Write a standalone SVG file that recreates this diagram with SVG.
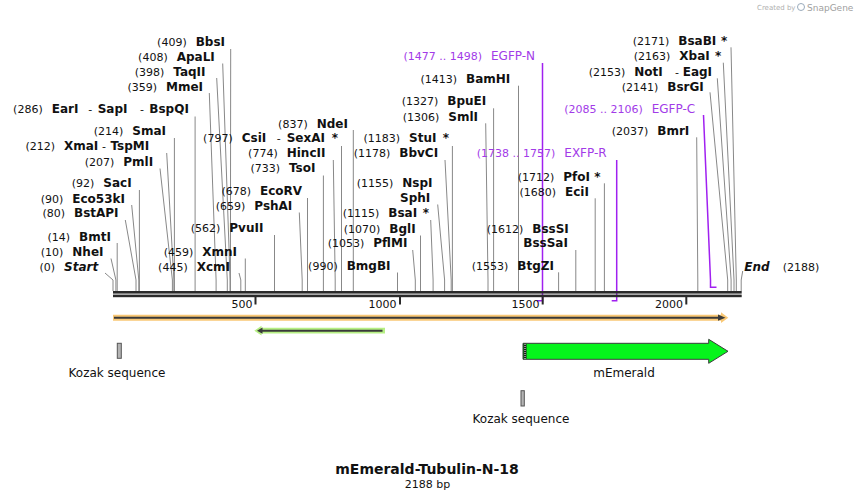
<svg xmlns="http://www.w3.org/2000/svg" width="855" height="501" viewBox="0 0 855 501">
<style>
text{font-family:"DejaVu Sans",Verdana,sans-serif;fill:#111}
.num{font-size:11px;text-anchor:end}
.nm{font-size:12px;font-weight:bold}
.it{font-style:italic}
.sep{font-size:11px;font-weight:normal}
.pn{font-size:11px;text-anchor:end;fill:#a23be8}
.pl{font-size:12px;fill:#a23be8}
.site{fill:none;stroke:#888;stroke-width:1}
.prim{fill:none;stroke:#a020f0;stroke-width:1.5}
.tick{font-size:11px;text-anchor:end}
.lbl{font-size:12px;text-anchor:middle}
</style>
<rect width="855" height="501" fill="#fff"/>
<g id="watermark">
<text x="757" y="10" style="font-size:7px;fill:#b0b0b0">Created by</text>
<circle cx="801" cy="7" r="3.5" fill="none" stroke="#9ab" stroke-width="1"/>
<text x="807" y="10.5" style="font-size:9px;fill:#a0a0a0">SnapGene</text>
</g>
<g id="connectors">
<polyline class="site" points="230.7,49 230.4,280 230.4,291"/>
<polyline class="site" points="222.7,63.5 230.1,280 230.1,291"/>
<polyline class="site" points="216.7,78 227.3,280 227.3,291"/>
<polyline class="site" points="209.3,93 216.1,280 216.1,291"/>
<polyline class="site" points="195.1,116.5 195.1,291"/>
<polyline class="site" points="174.4,138 174.4,291"/>
<polyline class="site" points="166.7,153 173.9,280 173.9,291"/>
<polyline class="site" points="160,168.5 172.4,280 172.4,291"/>
<polyline class="site" points="139.4,190 139.4,291"/>
<polyline class="site" points="131.7,205 138.8,280 138.8,291"/>
<polyline class="site" points="125.3,220 136,280 136,291"/>
<polyline class="site" points="117.2,243 117.2,291"/>
<polyline class="site" points="111,258.5 115.9,280 115.9,291"/>
<polyline class="site" points="105,273 113,280 113,291"/>
<polyline class="site" points="245.3,258.5 245.3,291"/>
<polyline class="site" points="239,273 240.8,280 240.8,291"/>
<polyline class="site" points="274.5,235 274.5,291"/>
<polyline class="site" points="299.3,212.5 302.2,280 302.2,291"/>
<polyline class="site" points="307.5,198 307.5,291"/>
<polyline class="site" points="323.4,175.5 323.4,291"/>
<polyline class="site" points="333.3,160 335.2,280 335.2,291"/>
<polyline class="site" points="341.5,146 341.5,291"/>
<polyline class="site" points="353.3,130 353.3,291"/>
<polyline class="site" points="397.5,272.5 397.5,291"/>
<polyline class="site" points="412.7,250 415.3,280 415.3,291"/>
<polyline class="site" points="420.5,235.5 420.5,291"/>
<polyline class="site" points="430.7,220 433.1,280 433.1,291"/>
<polyline class="site" points="437.7,204.5 444.6,280 444.6,291"/>
<polyline class="site" points="445,160 451.2,280 451.2,291"/>
<polyline class="site" points="452.4,146 452.4,291"/>
<polyline class="site" points="485.7,123.3 488,280 488,291"/>
<polyline class="site" points="493.6,108.3 493.6,291"/>
<polyline class="site" points="518.5,85.7 518.5,291"/>
<polyline class="site" points="558.6,272.3 558.6,291"/>
<polyline class="site" points="575.8,250 575.8,291"/>
<polyline class="site" points="595.2,198.3 595.2,291"/>
<polyline class="site" points="604.4,183.3 604.4,291"/>
<polyline class="site" points="696.7,137.3 697.8,280 697.8,291"/>
<polyline class="site" points="710,92.3 727.7,280 727.7,291"/>
<polyline class="site" points="717.3,78.3 731.1,280 731.1,291"/>
<polyline class="site" points="723.3,62.7 734,280 734,291"/>
<polyline class="site" points="731,47.3 736.3,280 736.3,291"/>
<polyline class="site" points="742.7,271 741.2,280 741.2,291"/>
<polyline class="prim" points="542.5,63 542.5,300.7 536.8,300.7"/>
<polyline class="prim" points="616.7,160 616.7,300.7 611.7,300.7"/>
<polyline class="prim" points="703.5,115 710.5,280 710.5,287.3 716.5,287.3"/>
</g>
<g id="backbone">
<rect x="113" y="291" width="628.7" height="2.6" fill="#2a2a2a"/>
<rect x="113" y="294.6" width="628.7" height="2.6" fill="#2a2a2a"/>
<rect x="254.5" y="297" width="2" height="7.5" fill="#2a2a2a"/>
<rect x="399" y="297" width="2" height="7.5" fill="#2a2a2a"/>
<rect x="541.7" y="297" width="2" height="7.5" fill="#2a2a2a"/>
<rect x="685.3" y="297" width="2" height="7.5" fill="#2a2a2a"/>
<text class="tick" x="252.5" y="307.5">500</text>
<text class="tick" x="396.5" y="307.5">1000</text>
<text class="tick" x="539.5" y="307.5">1500</text>
<text class="tick" x="683" y="307.5">2000</text>
</g>
<g id="feature-orange">
<polygon points="113,314.7 721,314.7 721,312.3 728.3,317.7 721,323 721,320.7 113,320.7" fill="#f9c876"/>
<line x1="114" y1="317.7" x2="721" y2="317.7" stroke="#3a3a3a" stroke-width="2"/>
<polygon points="718,314.6 725.5,317.7 718,320.8" fill="#3a3a3a"/>
</g>
<g id="feature-green-rev">
<polygon points="254.3,330.7 261.5,325.8 261.5,327.8 385,327.8 385,333.5 261.5,333.5 261.5,335.6" fill="#b6ef84"/>
<line x1="261" y1="330.7" x2="382.5" y2="330.7" stroke="#3a3a3a" stroke-width="2"/>
<polygon points="257,330.7 262.5,327.6 262.5,333.8" fill="#3a3a3a"/>
</g>
<g id="kozak1">
<rect x="117.3" y="343.3" width="4" height="15" fill="#b4b4b4" stroke="#555" stroke-width="1"/>
<text class="lbl" x="117" y="376.7">Kozak sequence</text>
</g>
<g id="mEmerald">
<polygon points="523,343.3 708.7,343.3 708.7,339.3 728,351.3 708.7,363.3 708.7,359.3 523,359.3" fill="#06f41c" stroke="#3c3c3c" stroke-width="1"/>
<rect x="523.5" y="343.8" width="3" height="15" fill="#1a1a1a"/>
<line x1="525" y1="344" x2="525" y2="359" stroke="#fff" stroke-width="1" stroke-dasharray="1,1"/>
<text class="lbl" x="624" y="376.7">mEmerald</text>
</g>
<g id="kozak2">
<rect x="521" y="390.7" width="3.3" height="15.3" fill="#b4b4b4" stroke="#555" stroke-width="1"/>
<text class="lbl" x="521" y="423.3">Kozak sequence</text>
</g>
<g id="title">
<text x="427" y="474" style="font-size:14px;font-weight:bold;text-anchor:middle">mEmerald-Tubulin-N-18</text>
<text x="427.5" y="487.5" style="font-size:11px;text-anchor:middle">2188 bp</text>
</g>
<g id="sites">
<g id="BbsI"><text class="num" x="186.7" y="46">(409)</text><text class="nm" x="195.7" y="46">BbsI</text></g>
<g id="ApaLI"><text class="num" x="167.7" y="61">(408)</text><text class="nm" x="176.7" y="61">ApaLI</text></g>
<g id="TaqII"><text class="num" x="164.3" y="75.7">(398)</text><text class="nm" x="173.3" y="75.7">TaqII</text></g>
<g id="MmeI"><text class="num" x="157" y="90.7">(359)</text><text class="nm" x="166" y="90.7">MmeI</text></g>
<g id="EarI"><text class="num" x="42.7" y="112.7">(286)</text><text class="nm" x="51.7" y="112.7">EarI</text><text class="sep" x="88.3" y="112.7">-</text><text class="nm" x="97.7" y="112.7">SapI</text><text class="sep" x="140" y="112.7">-</text><text class="nm" x="149.3" y="112.7">BspQI</text></g>
<g id="SmaI"><text class="num" x="123.3" y="135">(214)</text><text class="nm" x="132.3" y="135">SmaI</text></g>
<g id="XmaI"><text class="num" x="55" y="150">(212)</text><text class="nm" x="64" y="150">XmaI</text><text class="sep" x="102" y="150">-</text><text class="nm" x="110.5" y="150">TspMI</text></g>
<g id="PmlI"><text class="num" x="114.3" y="165.7">(207)</text><text class="nm" x="123.3" y="165.7">PmlI</text></g>
<g id="SacI"><text class="num" x="94.3" y="187.3">(92)</text><text class="nm" x="103.3" y="187.3">SacI</text></g>
<g id="Eco53kI"><text class="num" x="63.3" y="202.7">(90)</text><text class="nm" x="72.3" y="202.7">Eco53kI</text></g>
<g id="BstAPI"><text class="num" x="65" y="217.3">(80)</text><text class="nm" x="74" y="217.3">BstAPI</text></g>
<g id="BmtI"><text class="num" x="70" y="240.7">(14)</text><text class="nm" x="79" y="240.7">BmtI</text></g>
<g id="NheI"><text class="num" x="63.3" y="255.7">(10)</text><text class="nm" x="72.3" y="255.7">NheI</text></g>
<g id="Start"><text class="num" x="55" y="270.7">(0)</text><text class="nm it" x="64" y="270.7">Start</text></g>
<g id="XmnI"><text class="num" x="193.3" y="255.7">(459)</text><text class="nm" x="202.3" y="255.7">XmnI</text></g>
<g id="XcmI"><text class="num" x="187.7" y="270.7">(445)</text><text class="nm" x="196.7" y="270.7">XcmI</text></g>
<g id="PvuII"><text class="num" x="220.3" y="232.3">(562)</text><text class="nm" x="229.3" y="232.3">PvuII</text></g>
<g id="PshAI"><text class="num" x="245.3" y="210">(659)</text><text class="nm" x="254.3" y="210">PshAI</text></g>
<g id="EcoRV"><text class="num" x="251" y="195">(678)</text><text class="nm" x="260" y="195">EcoRV</text></g>
<g id="TsoI"><text class="num" x="280" y="172.3">(733)</text><text class="nm" x="289" y="172.3">TsoI</text></g>
<g id="HincII"><text class="num" x="277.7" y="157.3">(774)</text><text class="nm" x="286.7" y="157.3">HincII</text></g>
<g id="CsiI"><text class="num" x="232.7" y="142.3">(797)</text><text class="nm" x="241.7" y="142.3">CsiI</text><text class="sep" x="276.7" y="142.3">-</text><text class="nm" x="286.7" y="142.3">SexAI</text><text class="nm" x="331.7" y="142.3">*</text></g>
<g id="NdeI"><text class="num" x="307.7" y="127.7">(837)</text><text class="nm" x="316.7" y="127.7">NdeI</text></g>
<g id="BmgBI"><text class="num" x="337.7" y="270">(990)</text><text class="nm" x="346.7" y="270">BmgBI</text></g>
<g id="PflMI"><text class="num" x="364.3" y="247.3">(1053)</text><text class="nm" x="373.3" y="247.3">PflMI</text></g>
<g id="BglI"><text class="num" x="380.3" y="232.7">(1070)</text><text class="nm" x="389.3" y="232.7">BglI</text></g>
<g id="BsaI"><text class="num" x="379.3" y="217.3">(1115)</text><text class="nm" x="388.3" y="217.3">BsaI</text><text class="nm" x="422.7" y="217.3">*</text></g>
<g id="SphI"><text class="num" x="393.3" y="187.3">(1155)</text><text class="nm" x="402.3" y="187.3">NspI</text><text class="nm" x="400" y="202.3">SphI</text></g>
<g id="BbvCI"><text class="num" x="390.3" y="157.3">(1178)</text><text class="nm" x="399.3" y="157.3">BbvCI</text></g>
<g id="StuI"><text class="num" x="400" y="142.3">(1183)</text><text class="nm" x="409" y="142.3">StuI</text><text class="nm" x="442.7" y="142.3">*</text></g>
<g id="SmlI"><text class="num" x="439.3" y="120.7">(1306)</text><text class="nm" x="448.3" y="120.7">SmlI</text></g>
<g id="BpuEI"><text class="num" x="438.3" y="105">(1327)</text><text class="nm" x="447.3" y="105">BpuEI</text></g>
<g id="BamHI"><text class="num" x="457" y="82.7">(1413)</text><text class="nm" x="466" y="82.7">BamHI</text></g>
<g id="BtgZI"><text class="num" x="508.3" y="270">(1553)</text><text class="nm" x="517.3" y="270">BtgZI</text></g>
<g id="BssSI"><text class="num" x="523.3" y="232.7">(1612)</text><text class="nm" x="532.3" y="232.7">BssSI</text><text class="nm" x="523.3" y="247.3">BssSaI</text></g>
<g id="EciI"><text class="num" x="556" y="195.7">(1680)</text><text class="nm" x="565" y="195.7">EciI</text></g>
<g id="PfoI"><text class="num" x="554.3" y="180.7">(1712)</text><text class="nm" x="563.3" y="180.7">PfoI</text><text class="nm" x="594.3" y="180.7">*</text></g>
<g id="BmrI"><text class="num" x="648.3" y="135">(2037)</text><text class="nm" x="657.3" y="135">BmrI</text></g>
<g id="BsrGI"><text class="num" x="658.3" y="90.7">(2141)</text><text class="nm" x="667.3" y="90.7">BsrGI</text></g>
<g id="NotI"><text class="num" x="625.3" y="75.7">(2153)</text><text class="nm" x="634.3" y="75.7">NotI</text><text class="sep" x="675" y="75.7">-</text><text class="nm" x="682.7" y="75.7">EagI</text></g>
<g id="XbaI"><text class="num" x="670.3" y="60">(2163)</text><text class="nm" x="679.3" y="60">XbaI</text><text class="nm" x="715" y="60">*</text></g>
<g id="BsaBI"><text class="num" x="669.3" y="45">(2171)</text><text class="nm" x="678.3" y="45">BsaBI</text><text class="nm" x="721" y="45">*</text></g>
<g id="End"><text class="nm it" x="744.3" y="270.7">End</text><text x="782.7" y="270.7" style="font-size:11px">(2188)</text></g>
</g>
<g id="primers">
<g id="EGFP-N"><text class="pn" x="482" y="60">(1477 .. 1498)</text><text class="pl" x="491" y="60">EGFP-N</text></g>
<g id="EXFP-R"><text class="pn" x="555.3" y="157.3">(1738 .. 1757)</text><text class="pl" x="564.3" y="157.3">EXFP-R</text></g>
<g id="EGFP-C"><text class="pn" x="642.7" y="112.7">(2085 .. 2106)</text><text class="pl" x="651.7" y="112.7">EGFP-C</text></g>
</g>
</svg>
